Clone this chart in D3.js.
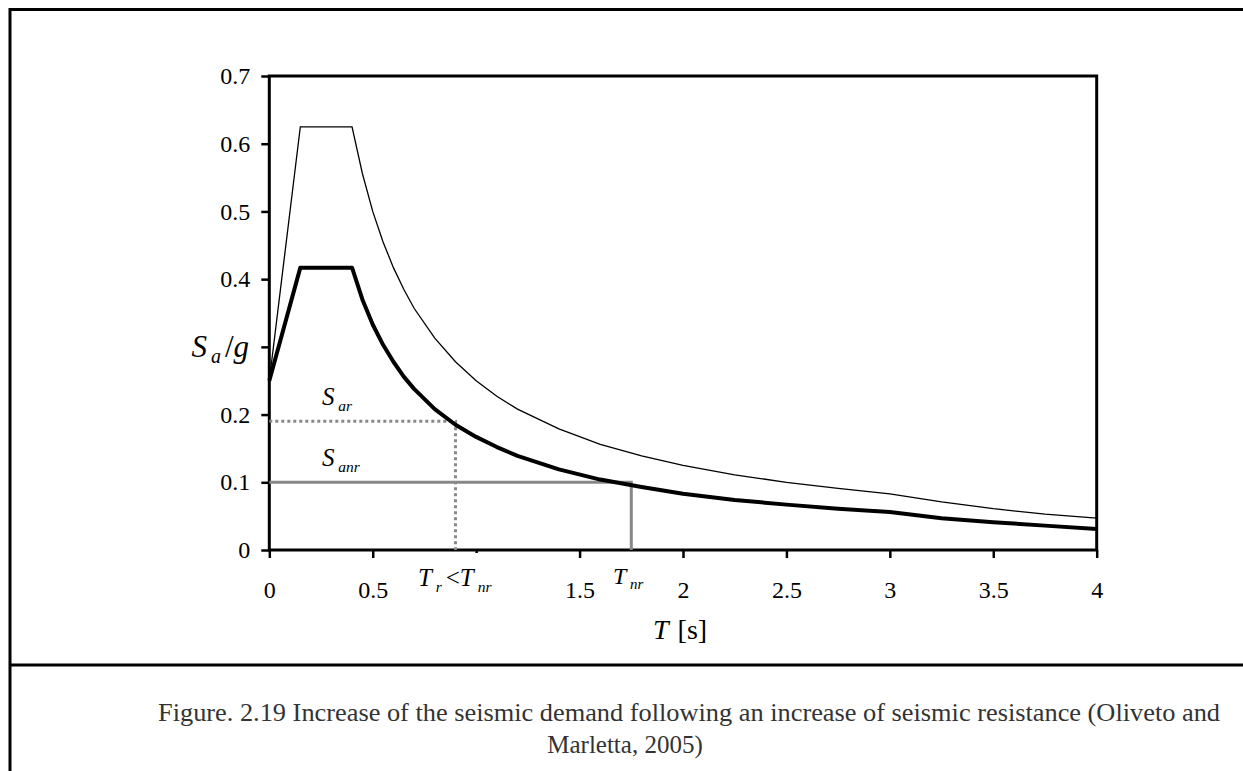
<!DOCTYPE html>
<html>
<head>
<meta charset="utf-8">
<script src="https://cdn.jsdelivr.net/npm/d3@7"></script>
<style>
  body { margin: 0; background: #fff; }
  svg { display: block; }
  text { font-family: "Liberation Serif", "Times New Roman", serif; }
</style>
</head>
<body>
<svg id="chart" width="1243" height="771"></svg>
<script>
// periods T [s]
const periods = [0, 0.15, 0.4, 0.45, 0.5, 0.55, 0.6, 0.65, 0.7, 0.8, 0.9, 1.0, 1.1, 1.2, 1.4, 1.6, 1.8, 2.0, 2.25, 2.5, 2.75, 3.0, 3.25, 3.5, 3.75, 4.0];
// thin line (elastic spectrum)
const elastic = [0.25, 0.625, 0.625, 0.556, 0.5, 0.455, 0.417, 0.385, 0.357, 0.313, 0.278, 0.25, 0.227, 0.208, 0.179, 0.156, 0.139, 0.125, 0.111, 0.1, 0.091, 0.083, 0.071, 0.061, 0.053, 0.047];
// thick line (design spectrum)
const design = [0.25, 0.417, 0.417, 0.37, 0.333, 0.303, 0.278, 0.256, 0.238, 0.208, 0.185, 0.167, 0.152, 0.139, 0.119, 0.104, 0.093, 0.083, 0.074, 0.067, 0.061, 0.056, 0.047, 0.041, 0.036, 0.031];

const xTicks = [0, 0.5, 1, 1.5, 2, 2.5, 3, 3.5, 4];
const yTicks = [0, 0.1, 0.2, 0.3, 0.4, 0.5, 0.6, 0.7];

// reference levels
const Sar = 0.19, Tr = 0.9;
const Sanr = 0.1, Tnr = 1.75;

const caption1 = 'Figure. 2.19 Increase of the seismic demand following an increase of seismic resistance (Oliveto and';
const caption2 = 'Marletta, 2005)';

const svg = d3.select('#chart');

const x = d3.scaleLinear().domain([0, 4]).range([269.3, 1096.7]);
const y = d3.scaleLinear().domain([0, 0.7]).range([550, 76]);

// outer frame + caption separator
svg.append('path')
    .attr('d', 'M10,800 V9.5 H1260')
    .attr('fill', 'none').attr('stroke', '#000').attr('stroke-width', 3);
svg.append('line')
    .attr('x1', 10).attr('x2', 1243).attr('y1', 665).attr('y2', 665)
    .attr('stroke', '#000').attr('stroke-width', 3);

// axes (tick 1 and 0.3 labels are replaced by the T_r and S_a/g texts)
const xAxis = svg.append('g')
    .attr('transform', `translate(0,${y(0)})`)
    .call(d3.axisBottom(x).tickValues(xTicks).tickSize(8).tickSizeOuter(0).tickPadding(23)
        .tickFormat((d) => (d === 1 ? '' : d3.format('')(d))));
xAxis.select('.domain').remove();
xAxis.selectAll('.tick line').attr('stroke-width', 2.5)
    .attr('y2', (d) => (d === 1 ? 3 : 8));
xAxis.selectAll('.tick text').attr('font-size', 24).attr('fill', '#000');

const yAxis = svg.append('g')
    .attr('transform', `translate(${x(0)},0)`)
    .call(d3.axisLeft(y).tickValues(yTicks).tickSize(8).tickSizeOuter(0).tickPadding(11)
        .tickFormat((d) => (d === 0.3 ? '' : d3.format('')(d))));
yAxis.select('.domain').remove();
yAxis.selectAll('.tick line').attr('stroke-width', 2.5);
yAxis.selectAll('.tick text').attr('font-size', 24).attr('fill', '#000');

// plot box
svg.append('rect')
    .attr('x', x(0)).attr('y', y(0.7))
    .attr('width', x(4) - x(0)).attr('height', y(0) - y(0.7))
    .attr('fill', 'none').attr('stroke', '#000').attr('stroke-width', 3);

// reference lines
svg.append('path')
    .attr('d', `M${x(0)},${y(Sar)} H${x(Tr)} V${y(0)}`)
    .attr('fill', 'none').attr('stroke', '#888').attr('stroke-width', 3)
    .attr('stroke-dasharray', '3,3');
svg.append('path')
    .attr('d', `M${x(0)},${y(Sanr)} H${x(Tnr)} V${y(0)}`)
    .attr('fill', 'none').attr('stroke', '#888').attr('stroke-width', 3);

// spectra
const line = d3.line().x((d) => x(d[0])).y((d) => y(d[1]));
svg.append('path')
    .datum(periods.map((t, i) => [t, elastic[i]]))
    .attr('d', line)
    .attr('fill', 'none').attr('stroke', '#000').attr('stroke-width', 1.3);
svg.append('path')
    .datum(periods.map((t, i) => [t, design[i]]))
    .attr('d', line)
    .attr('fill', 'none').attr('stroke', '#000').attr('stroke-width', 4)
    .attr('stroke-linejoin', 'round');

// labels with subscripts
function subLabel(px, py, main, sub, size) {
    const t = svg.append('text').attr('x', px).attr('y', py).attr('font-size', size);
    t.append('tspan').attr('font-style', 'italic').text(main);
    t.append('tspan').attr('font-style', 'italic').attr('font-size', size * 0.62)
        .attr('dx', size * 0.15).attr('dy', size * 0.22).text(sub);
    return t;
}

subLabel(322, 405, 'S', 'ar', 25);
subLabel(322, 466, 'S', 'anr', 25);
subLabel(613, 584, 'T', 'nr', 24);

const trLabel = subLabel(418, 586, 'T', 'r', 25);
trLabel.append('tspan').attr('dx', 4).attr('dy', -25 * 0.22).text('<');
trLabel.append('tspan').attr('font-style', 'italic').text('T');
trLabel.append('tspan').attr('font-style', 'italic').attr('font-size', 25 * 0.62)
    .attr('dx', 4).attr('dy', 25 * 0.22).text('nr');

// y axis title, sits at the 0.3 tick
const yTitle = svg.append('text').attr('x', 249).attr('y', y(0.3) + 10)
    .attr('font-size', 31).attr('text-anchor', 'end');
yTitle.append('tspan').attr('font-style', 'italic').text('S');
yTitle.append('tspan').attr('font-style', 'italic').attr('font-size', 20).attr('dx', 4).attr('dy', 6).text('a');
yTitle.append('tspan').attr('dy', -6).attr('dx', 4).text('/');
yTitle.append('tspan').attr('font-style', 'italic').text('g');

// x axis title
const xTitle = svg.append('text').attr('x', 653).attr('y', 639).attr('font-size', 28);
xTitle.append('tspan').attr('font-style', 'italic').text('T');
xTitle.append('tspan').attr('dx', 9).text('[s]');

// caption
svg.append('text')
    .attr('x', 158).attr('y', 721)
    .attr('font-size', 25).attr('fill', '#333')
    .attr('textLength', 1062).attr('lengthAdjust', 'spacingAndGlyphs')
    .text(caption1);
svg.append('text')
    .attr('x', 625).attr('y', 753).attr('text-anchor', 'middle')
    .attr('font-size', 25).attr('fill', '#333')
    .text(caption2);
</script>
</body>
</html>
